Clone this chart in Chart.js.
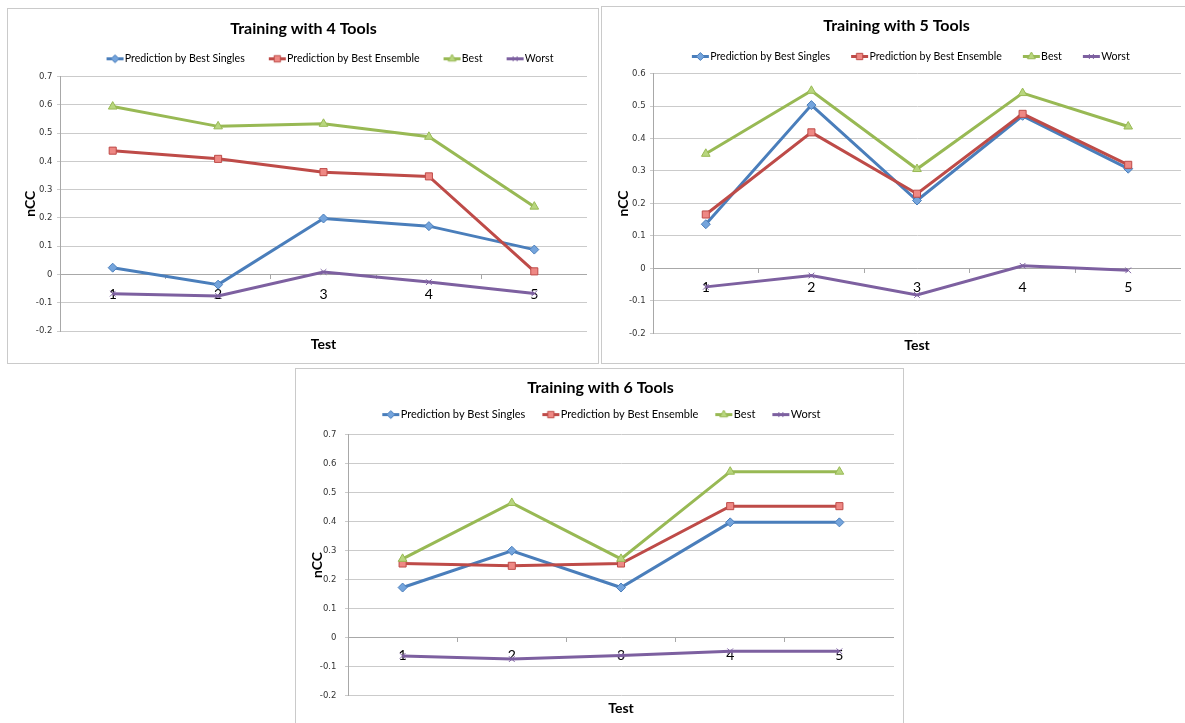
<!DOCTYPE html>
<html>
<head>
<meta charset="utf-8">
<script src="https://cdn.jsdelivr.net/npm/chart.js@4.4.1/dist/chart.umd.min.js"></script>
<style>
  html, body { margin: 0; padding: 0; background: #fff; }
  body { width: 1185px; height: 723px; overflow: hidden; position: relative; }
  .frame { position: absolute; box-sizing: border-box; border: 1px solid #cacaca; background: #fff; }
  canvas { position: absolute; }
</style>
</head>
<body>
<div class="frame" style="left:7px;top:8px;width:592px;height:356px"></div>
<div class="frame" style="left:601px;top:6px;width:600px;height:358px"></div>
<div class="frame" style="left:295px;top:368px;width:609px;height:400px"></div>
<canvas id="chart4" width="567" height="354" style="left:20px;top:9px"></canvas>
<canvas id="chart5" width="569" height="356" style="left:612px;top:7px"></canvas>
<canvas id="chart6" width="587" height="354" style="left:307px;top:369px"></canvas>
<script>
// Test cases on the category axis
const testLabels = ['1', '2', '3', '4', '5'];
const seriesNames = ['Prediction by Best Singles', 'Prediction by Best Ensemble', 'Best', 'Worst'];
const chartTitles = ['Training with 4 Tools', 'Training with 5 Tools', 'Training with 6 Tools'];

// nCC per test, training with 4 tools
const singles4  = [0.024, -0.036, 0.198, 0.171, 0.088];
const ensemble4 = [0.438, 0.409, 0.362, 0.347, 0.011];
const best4     = [0.594, 0.524, 0.533, 0.487, 0.240];
const worst4    = [-0.068, -0.076, 0.009, -0.027, -0.067];

// nCC per test, training with 5 tools
const singles5  = [0.136, 0.503, 0.209, 0.470, 0.307];
const ensemble5 = [0.166, 0.419, 0.230, 0.476, 0.319];
const best5     = [0.353, 0.547, 0.306, 0.540, 0.437];
const worst5    = [-0.057, -0.022, -0.082, 0.008, -0.006];

// nCC per test, training with 6 tools
const singles6  = [0.172, 0.299, 0.172, 0.397, 0.397];
const ensemble6 = [0.255, 0.247, 0.255, 0.453, 0.453];
const best6     = [0.271, 0.464, 0.271, 0.572, 0.572];
const worst6    = [-0.064, -0.075, -0.063, -0.048, -0.048];

// Series look: line colour, marker fill, marker shape; lower order is drawn on top
const seriesStyles = [
  { line: '#4a7ebb', fill: '#74a4dc', shape: 'rectRot',  radius: 4.5, order: 4 },
  { line: '#be4b48', fill: '#ee8884', shape: 'rect',     radius: 5,   order: 3 },
  { line: '#98b954', fill: '#b8d67e', shape: 'triangle', radius: 5,   order: 2 },
  { line: '#7d60a0', fill: '#9a82b8', shape: 'crossRot', radius: 4,   order: 1 }
];

const LEGEND_BOX = 28;

// Legend swatch: a short line with its marker, right-aligned so it sits next to the text
function makeLegendIcon(st) {
  const c = document.createElement('canvas');
  c.width = LEGEND_BOX + 10;
  c.height = 11;
  const g = c.getContext('2d');
  const x1 = c.width - 1, x0 = x1 - 17, cx = (x0 + x1) / 2, cy = 5.5;
  g.strokeStyle = st.line;
  g.lineWidth = 3;
  g.beginPath(); g.moveTo(x0, cy); g.lineTo(x1, cy); g.stroke();
  g.fillStyle = st.fill;
  g.strokeStyle = st.line;
  g.lineWidth = 1;
  if (Chart.helpers && Chart.helpers.drawPoint) {
    Chart.helpers.drawPoint(g, { pointStyle: st.shape, radius: st.radius - 0.5, borderWidth: 1, rotation: 0 }, cx, cy);
  }
  return c;
}
const legendIcons = seriesStyles.map(makeLegendIcon);

// Moves the legend block after layout without touching the plot area
const legendNudge = {
  id: 'legendNudge',
  afterLayout(chart, args, opts) {
    const lg = chart.legend;
    if (!lg) return;
    const dx = opts.dx || 0, dy = opts.dy || 0;
    lg.left += dx; lg.right += dx;
    lg.top += dy; lg.bottom += dy;
  }
};

function legendLabels(chart) {
  const items = Chart.defaults.plugins.legend.labels.generateLabels(chart);
  items.sort((a, b) => a.datasetIndex - b.datasetIndex);
  items.forEach(it => { it.pointStyle = legendIcons[it.datasetIndex]; });
  return items;
}

function tickText(v) {
  const r = Math.round(v * 10) / 10;
  return r === 0 ? '0' : r.toFixed(1);
}

function buildChart(canvasId, title, series, yMax, g) {
  return new Chart(document.getElementById(canvasId), {
    type: 'line',
    data: {
      labels: testLabels,
      datasets: series.map((vals, i) => ({
        label: seriesNames[i],
        data: vals,
        xAxisID: 'x',
        yAxisID: 'y',
        borderColor: seriesStyles[i].line,
        backgroundColor: seriesStyles[i].fill,
        borderWidth: 3,
        tension: 0,
        fill: false,
        pointStyle: seriesStyles[i].shape,
        pointRadius: seriesStyles[i].radius,
        pointBackgroundColor: seriesStyles[i].fill,
        pointBorderColor: seriesStyles[i].line,
        pointBorderWidth: 1,
        order: seriesStyles[i].order
      }))
    },
    plugins: [legendNudge],
    options: {
      responsive: false,
      animation: false,
      devicePixelRatio: 1,
      events: [],
      layout: { padding: 0, autoPadding: false },
      plugins: {
        title: {
          display: true,
          text: title,
          color: '#000',
          font: { family: 'Lato', size: 16, weight: 'bold' },
          padding: { top: g.titleTop, bottom: g.titleBottom }
        },
        legend: {
          display: true,
          position: 'top',
          labels: {
            usePointStyle: true,
            pointStyleWidth: LEGEND_BOX,
            padding: g.legendGap,
            color: '#000',
            font: { family: 'Lato', size: g.legendFont },
            generateLabels: legendLabels
          }
        },
        legendNudge: { dx: g.legendDx, dy: g.legendDy },
        tooltip: { enabled: false }
      },
      scales: {
        x: {
          type: 'category',
          position: { y: 0 },
          offset: true,
          z: 1,
          grid: { display: true, drawOnChartArea: false, drawTicks: true, tickLength: 4, color: '#a8a8a8', offset: true },
          border: { display: true, color: '#a8a8a8', width: 1 },
          ticks: { color: '#000', font: { family: 'Lato', size: 14 }, padding: g.xTickPad, maxRotation: 0, autoSkip: false }
        },
        xTitle: {
          type: 'category',
          position: 'bottom',
          offset: true,
          grid: { display: false, drawTicks: false },
          border: { display: false },
          ticks: { display: false },
          title: {
            display: true,
            text: 'Test',
            color: '#000',
            font: { family: 'Lato', size: 14, weight: 'bold' },
            padding: { top: g.testTop, bottom: g.testBottom }
          }
        },
        y: {
          type: 'linear',
          position: 'left',
          min: -0.2,
          max: yMax,
          afterFit: (s) => { s.width = g.yAxisWidth; },
          grid: { color: '#cbcbcb', tickLength: 3, drawTicks: true },
          border: { display: true, color: '#a8a8a8' },
          ticks: {
            stepSize: 0.1,
            padding: g.yTickPad,
            color: '#333',
            font: { family: 'DejaVu Sans', size: 8.5 },
            callback: tickText
          },
          title: {
            display: true,
            text: 'nCC',
            color: '#000',
            font: { family: 'Lato', size: 14, weight: 'bold' },
            padding: { top: g.yTitlePad, bottom: 0 }
          }
        }
      }
    }
  });
}

buildChart('chart4', chartTitles[0], [singles4, ensemble4, best4, worst4], 0.7, {
  titleTop: 10.4, titleBottom: 8.4, legendGap: 9, legendFont: 10.6, legendDx: 19, legendDy: -2.5,
  yAxisWidth: 40, yTitlePad: 1.6, yTickPad: 4.6, xTickPad: 7.6, testTop: 4.6, testBottom: 10.6
});
buildChart('chart5', chartTitles[1], [singles5, ensemble5, best5, worst5], 0.6, {
  titleTop: 9.4, titleBottom: 11.4, legendGap: 6, legendFont: 10.6, legendDx: 6.8, legendDy: -1.8,
  yAxisWidth: 41, yTitlePad: 3.1, yTickPad: 4.4, xTickPad: 6.4, testTop: 4.0, testBottom: 8.9
});
buildChart('chart6', chartTitles[2], [singles6, ensemble6, best6, worst6], 0.7, {
  titleTop: 9.1, titleBottom: 14.3, legendGap: 2, legendFont: 11, legendDx: -6.6, legendDy: -4.5,
  yAxisWidth: 41, yTitlePad: 2.2, yTickPad: 8.6, xTickPad: 6.2, testTop: 4.3, testBottom: 6.6
});
</script>
</body>
</html>
